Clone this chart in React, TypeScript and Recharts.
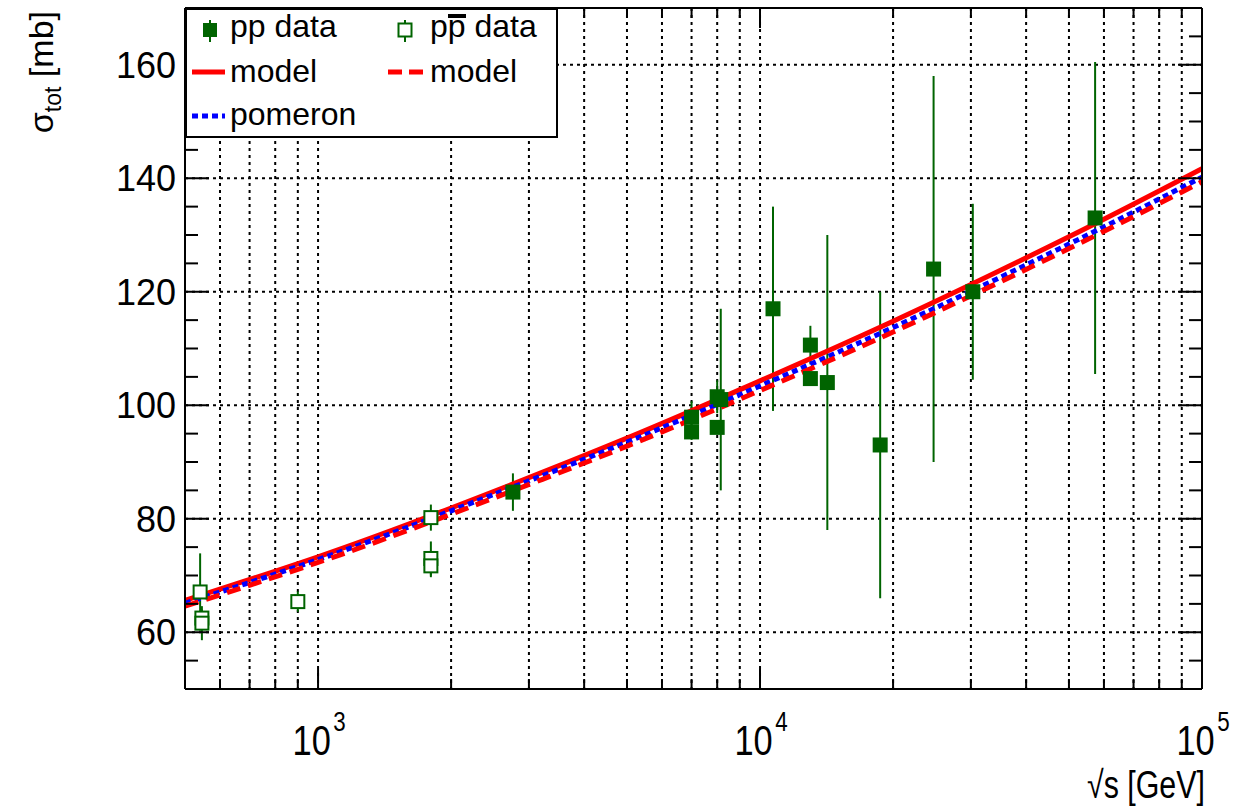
import React from "react"
import { ComposedChart, XAxis, YAxis, CartesianGrid, Line, Scatter, ErrorBar, Legend, Label } from "recharts"

const FONT = '"Liberation Sans", Arial, Helvetica, sans-serif'
const GREEN = "#006400"

// pp data (filled squares): sqrt(s) in GeV, sigma_tot in mb, error in mb
const ppSqrtS = [2760, 7000, 7000, 8000, 8150, 8000, 10700, 13000, 13000, 14200, 18700, 24700, 30300, 57300]
const ppSigma = [84.7, 97.9, 95.3, 101.5, 101.0, 96.1, 117.0, 110.6, 104.7, 104.0, 93.0, 124.0, 120.0, 133.0]
const ppErr = [3.3, 2.8, 1.4, 2.9, 16.0, 0.9, 18.0, 3.4, 1.1, 26.0, 27.0, 34.0, 15.5, 27.5]

// p-pbar data (open squares)
const pbarSqrtS = [541, 546, 546, 900, 1800, 1800, 1800]
const pbarSigma = [67.1, 62.5, 61.6, 65.4, 80.2, 73.0, 71.7]
const pbarErr = [6.8, 1.5, 3.0, 1.8, 2.3, 3.0, 2.0]

// model curves
const curveSqrtS = [500, 1000, 2000, 5000, 10000, 20000, 50000, 100000]
const modelPP = [65.6, 73.3, 81.9, 94.2, 104.3, 114.8, 129.7, 141.7]
const pomeronPP = [65.1, 72.8, 81.4, 93.5, 103.4, 113.7, 128.4, 140.2]
const modelPbar = [64.6, 72.3, 80.8, 92.8, 102.6, 112.9, 127.6, 139.4]

// axis ticks
const xTicks = [600, 700, 800, 900, 1000, 2000, 3000, 4000, 5000, 6000, 7000, 8000, 9000, 10000,
  20000, 30000, 40000, 50000, 60000, 70000, 80000, 90000, 100000]
const xGrid = xTicks.slice(0, -1)
const yTicks = [50, 55, 60, 65, 70, 75, 80, 85, 90, 95, 100, 105, 110, 115, 120, 125, 130, 135, 140, 145, 150, 155, 160, 165, 170]
const yLabels = [60, 80, 100, 120, 140, 160]

const pp = ppSqrtS.map((x, i) => ({ x, y: ppSigma[i], err: ppErr[i] }))
const pbar = pbarSqrtS.map((x, i) => ({ x, y: pbarSigma[i], err: pbarErr[i] }))
const curve = (ys: number[]) => curveSqrtS.map((x, i) => ({ x, y: ys[i] }))

const isDecade = (v: number) => Math.abs(Math.log10(v) - Math.round(Math.log10(v))) < 1e-6

function BottomTick({ x, y, payload }: any) {
  const v = payload.value
  const major = isDecade(v)
  return (
    <g>
      <line x1={x} y1={y} x2={x} y2={y - (major ? 20 : 10)} stroke="#000" strokeWidth={2} />
      {major && (
        <g transform={`translate(${x}, ${y + 66}) scale(0.8, 1)`}>
          <text x={-8} y={0} textAnchor="middle" fontSize={43} fontFamily={FONT} fill="#000">10</text>
          <text x={19} y={-24} textAnchor="start" fontSize={28} fontFamily={FONT} fill="#000">
            {Math.round(Math.log10(v))}
          </text>
        </g>
      )}
    </g>
  )
}

function TopTick({ x, y, payload }: any) {
  const major = isDecade(payload.value)
  return <line x1={x} y1={y} x2={x} y2={y + (major ? 20 : 10)} stroke="#000" strokeWidth={2} />
}

function LeftTick({ x, y, payload }: any) {
  const v = payload.value
  const major = yLabels.includes(v)
  return (
    <g>
      <line x1={x} y1={y} x2={x + (major ? 24 : 13)} y2={y} stroke="#000" strokeWidth={2} />
      {major && (
        <text x={x - 9} y={y + 13} textAnchor="end" fontSize={36} fontFamily={FONT} fill="#000">{v}</text>
      )}
    </g>
  )
}

function RightTick({ x, y, payload }: any) {
  const major = yLabels.includes(payload.value)
  return <line x1={x} y1={y} x2={x - (major ? 24 : 13)} y2={y} stroke="#000" strokeWidth={2} />
}

const FilledSquare = (p: any) => (
  <rect x={p.cx - 7.5} y={p.cy - 7.5} width={15} height={15} fill={GREEN} />
)
const OpenSquare = (p: any) => (
  <rect x={p.cx - 6.5} y={p.cy - 6.5} width={13} height={13} fill="#fff" stroke={GREEN} strokeWidth={2} />
)

function LegendBox() {
  const txt = { fontSize: 32, fontFamily: FONT, fill: "#000" }
  return (
    <svg width={373} height={130} style={{ display: "block" }}>
      <rect x={1} y={1} width={371} height={128} fill="#fff" stroke="#000" strokeWidth={2} />
      {/* pp data */}
      <line x1={25} y1={12} x2={25} y2={34} stroke={GREEN} strokeWidth={2} />
      <rect x={18} y={15} width={14} height={14} fill={GREEN} />
      <text x={45} y={29} {...txt}>pp data</text>
      {/* pbar data */}
      <line x1={220} y1={12} x2={220} y2={34} stroke={GREEN} strokeWidth={2} />
      <rect x={213.5} y={15.5} width={13} height={13} fill="#fff" stroke={GREEN} strokeWidth={2} />
      <text x={245} y={29} {...txt}>pp data</text>
      <line x1={263} y1={8} x2={281} y2={8} stroke="#000" strokeWidth={4} />
      {/* model pp */}
      <line x1={7} y1={64} x2={40} y2={64} stroke="#ff0000" strokeWidth={5} />
      <text x={45} y={74} {...txt}>model</text>
      {/* model pbar */}
      <line x1={203} y1={64} x2={238} y2={64} stroke="#ff0000" strokeWidth={5} strokeDasharray="14 7" />
      <text x={245} y={74} {...txt}>model</text>
      {/* pomeron */}
      <line x1={7} y1={108} x2={40} y2={108} stroke="#0000ff" strokeWidth={5} strokeDasharray="6 4" />
      <text x={45} y={117} {...txt}>pomeron</text>
    </svg>
  )
}

export default function App() {
  const axisLine = { stroke: "#000", strokeWidth: 2 }
  return (
    <div style={{ position: "absolute", left: 0, top: 0, background: "#fff" }}>
      <ComposedChart width={1244} height={807} margin={{ top: 0, right: 0, bottom: 0, left: 0 }}>
        <CartesianGrid stroke="#000" strokeWidth={2} strokeDasharray="3 4"
          horizontalValues={yLabels} verticalValues={xGrid} />
        <XAxis dataKey="x" type="number" scale="log" domain={[500, 100000]} allowDataOverflow
          ticks={xTicks} interval={0} height={118} tickSize={0} tickMargin={0} tickLine={false}
          axisLine={axisLine} tick={(p: any) => <BottomTick {...p} />}>
          <Label content={() => (
            <text transform="translate(1205, 798) scale(0.8, 1)" textAnchor="end" fontSize={38}
              fontFamily={FONT} fill="#000">√s [GeV]</text>
          )} />
        </XAxis>
        <XAxis xAxisId="top" orientation="top" dataKey="x" type="number" scale="log" domain={[500, 100000]}
          allowDataOverflow ticks={xTicks} interval={0} height={8} tickSize={0} tickMargin={0}
          tickLine={false} axisLine={axisLine} tick={(p: any) => <TopTick {...p} />} />
        <YAxis type="number" domain={[50, 170]} allowDataOverflow ticks={yTicks} interval={0} width={185}
          tickSize={0} tickMargin={0} tickLine={false} axisLine={axisLine} tick={(p: any) => <LeftTick {...p} />}>
          <Label content={() => (
            <text transform="translate(53, 11) rotate(-90)" textAnchor="end" fontSize={34}
              fontFamily={FONT} fill="#000">
              <tspan>σ</tspan>
              <tspan dy={8} fontSize={23}>tot</tspan>
              <tspan dy={-8}> [mb]</tspan>
            </text>
          )} />
        </YAxis>
        <YAxis yAxisId="right" orientation="right" type="number" domain={[50, 170]} allowDataOverflow
          ticks={yTicks} interval={0} width={42} tickSize={0} tickMargin={0} tickLine={false}
          axisLine={axisLine} tick={(p: any) => <RightTick {...p} />} />

        <Scatter name="pp data" data={pp} dataKey="y" shape={FilledSquare} isAnimationActive={false}>
          <ErrorBar dataKey="err" direction="y" width={0} stroke={GREEN} strokeWidth={2} />
        </Scatter>
        <Scatter name="pbar data" data={pbar} dataKey="y" shape={OpenSquare} isAnimationActive={false}>
          <ErrorBar dataKey="err" direction="y" width={0} stroke={GREEN} strokeWidth={2} />
        </Scatter>

        <Line data={curve(modelPP)} dataKey="y" type="natural" stroke="#ff0000" strokeWidth={5}
          dot={false} isAnimationActive={false} />
        <Line data={curve(pomeronPP)} dataKey="y" type="natural" stroke="#0000ff" strokeWidth={5}
          strokeDasharray="6 4" dot={false} isAnimationActive={false} />
        <Line data={curve(modelPbar)} dataKey="y" type="natural" stroke="#ff0000" strokeWidth={5}
          strokeDasharray="14 8" dot={false} isAnimationActive={false} />

        <Legend layout="vertical" align="center" verticalAlign="middle"
          wrapperStyle={{ top: 8, left: 185, width: 373, height: 130 }}
          content={() => <LegendBox />} />
      </ComposedChart>
    </div>
  )
}
